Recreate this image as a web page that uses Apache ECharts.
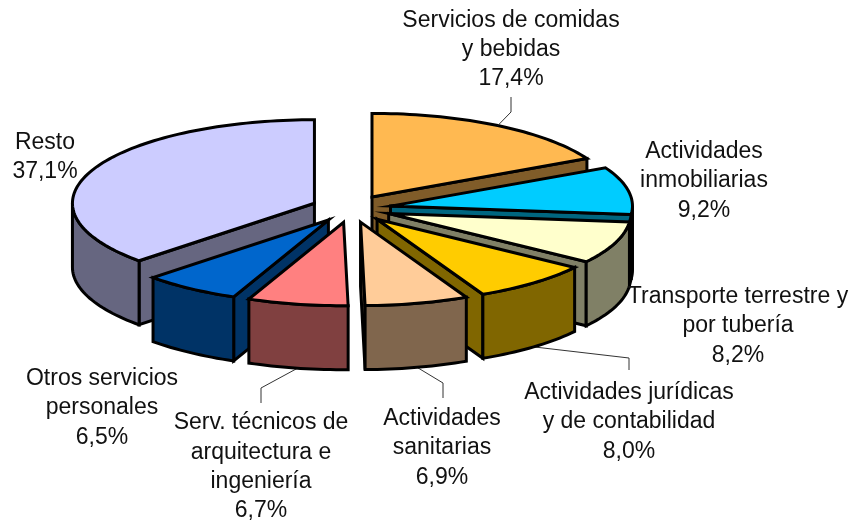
<!DOCTYPE html>
<html>
<head>
<meta charset="utf-8">
<style>
  html, body { margin: 0; padding: 0; background: #fff; }
  #chart { width: 850px; height: 524px; }
</style>
<script src="https://cdn.jsdelivr.net/npm/echarts@6/dist/echarts.min.js"></script>
</head>
<body>
<div id="chart"></div>
<script>
// values
const categories = [
  'Servicios de comidas\ny bebidas',
  'Actividades\ninmobiliarias',
  'Transporte terrestre y\npor tubería',
  'Actividades jurídicas\ny de contabilidad',
  'Actividades\nsanitarias',
  'Serv. técnicos de\narquitectura e\ningeniería',
  'Otros servicios\npersonales',
  'Resto'
];
const shares = [17.4, 9.2, 8.2, 8.0, 6.9, 6.7, 6.5, 37.1];

// styles and layout
const topColors = ['#FFB951', '#00CCFF', '#FFFFCC', '#FFCC00', '#FFCC99', '#FF8080', '#0066CC', '#CCCCFF'];
const wallColors = ['#805C29', '#006680', '#808066', '#806600', '#80664D', '#804040', '#003366', '#666680'];
const labelX = [511, 704, 738, 629, 442, 261, 102, 45];
const labelY = [49.5, 181, 326, 422, 448, 467, 408, 157];
// elbows of the thin leader lines, null when the label has none
const leaders = [
  [[511, 112], [511, 97]],
  null,
  null,
  [[629, 358], [629, 370]],
  [[443, 383], [443, 398]],
  [[261, 388], [261, 403]],
  null,
  null
];
// painter order, back to front
const paintOrder = [7, 6, 5, 0, 1, 2, 3, 4];

const cx = 351.2, cy = 208.7;
const rx = 242, ry = 83.5;
const depth = 64;
const explode = 40;
const edge = 3;

const rad = d => d * Math.PI / 180;

// angles go clockwise from 12 o'clock
let startAngles = [];
let sum = 0;
shares.forEach(v => { startAngles.push(sum * 3.6); sum += v; });

function arcPoints (ox, oy, a0, a1) {
  let pts = [];
  let n = Math.max(2, Math.ceil((a1 - a0) / 1.5));
  for (let i = 0; i <= n; i++) {
    let a = rad(a0 + (a1 - a0) * i / n);
    pts.push([ox + rx * Math.sin(a), oy - ry * Math.cos(a)]);
  }
  return pts;
}

function face (points, fill, z2) {
  return {
    type: 'polygon',
    z2: z2,
    shape: { points: points },
    style: { fill: fill, stroke: '#000', lineWidth: edge, lineJoin: 'miter', miterLimit: 10 }
  };
}

function cutWall (ox, oy, a, fill, z2) {
  let p = arcPoints(ox, oy, a, a + 1)[0];
  return face([[ox, oy], p, [p[0], p[1] + depth], [ox, oy + depth]], fill, z2);
}

function renderItem (params, api) {
  let i = params.dataIndex;
  let a0 = startAngles[i];
  let a1 = a0 + api.value(0) * 3.6;
  let mid = rad((a0 + a1) / 2);
  let ox = cx + explode * Math.sin(mid);
  let oy = cy - explode * (ry / rx) * Math.cos(mid);
  let z = paintOrder.indexOf(i) * 10;
  let children = [];

  // the cut sides that face the viewer
  if (a1 < 180) children.push(cutWall(ox, oy, a1, wallColors[i], z + 1));
  if (a0 > 180) children.push(cutWall(ox, oy, a0, wallColors[i], z + 1));

  // outer rim, only the front half of the ellipse shows
  let w0 = Math.max(a0, 90), w1 = Math.min(a1, 270);
  if (w1 > w0) {
    let rim = arcPoints(ox, oy, w0, w1);
    let low = rim.map(p => [p[0], p[1] + depth]).reverse();
    children.push(face(rim.concat(low), wallColors[i], z + 2));
  }

  children.push(face([[ox, oy]].concat(arcPoints(ox, oy, a0, a1)), topColors[i], z + 3));

  // leader line starts at the middle of the rim
  if (leaders[i]) {
    let front = Math.cos(mid) < 0 ? depth : 0;
    let from = [ox + rx * Math.sin(mid), oy - ry * Math.cos(mid) + front];
    children.push({
      type: 'polyline',
      z2: front ? 0 : 100,
      shape: { points: [from].concat(leaders[i]) },
      style: { fill: null, stroke: '#333', lineWidth: 1 }
    });
  }

  children.push({
    type: 'text',
    z2: 200,
    x: labelX[i],
    y: labelY[i],
    style: {
      text: categories[i] + '\n' + api.value(0).toFixed(1).replace('.', ',') + '%',
      fill: '#111',
      font: '23px "Liberation Sans"',
      lineHeight: 29.3,
      align: 'center',
      verticalAlign: 'middle'
    }
  });
  return { type: 'group', children: children };
}

let chart = echarts.init(document.getElementById('chart'));
chart.setOption({
  backgroundColor: '#fff',
  animation: false,
  series: [{
    type: 'custom',
    coordinateSystem: 'none',
    renderItem: renderItem,
    data: shares.map(v => [v])
  }]
});
</script>
</body>
</html>
